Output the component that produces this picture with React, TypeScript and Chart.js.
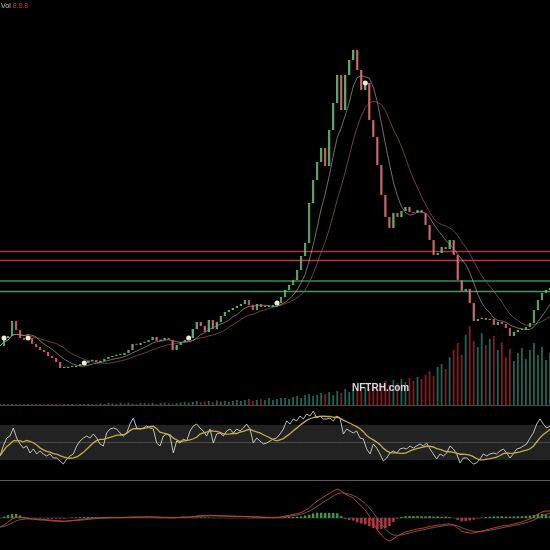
import React, { useEffect, useRef } from "react";
import { Chart, registerables } from "chart.js";

Chart.register(...registerables);

// ---- Price panel data (closing prices per session) ----
const closes = [
  16, 18, 18.5, 22.25, 20, 18, 17.5, 18, 16.5, 15.75,
  15, 14.5, 13.5, 13, 12, 10.5, 10.5, 10.75, 10.75, 11,
  11.5, 11.75, 12.25, 12.5, 12, 12.25, 12.75, 13.25, 13.5, 13.75,
  13.75, 14.25, 15, 16.5, 16.25, 16.75, 17, 17.5, 18.25, 17.25,
  17.5, 18, 17.5, 15, 16.25, 17, 17.5, 18, 20.25, 22,
  21, 19.5, 22.5, 20.25, 22, 23.5, 24.5, 25, 25.5, 26,
  26.5, 27.5, 26.25, 25, 26.5, 25.75, 25.75, 25.75, 26.25, 26.75,
  28.25, 30, 31.25, 32.5, 35, 38.5, 41.75, 51.75, 57.5, 62,
  65.5, 61, 70, 76.75, 83.75, 75, 83.75, 87.5, 90, 85,
  80, 81.75, 72.5, 68.25, 61.25, 53.75, 48.25, 45.5, 49.25, 48.25,
  49.75, 50.75, 49.5, 49.25, 50, 49.25, 46.25, 42.5, 38.75, 39.25,
  40.75, 40.25, 42.5, 38.75, 32.5, 29.75, 30.25, 26.75, 22.25, 22.75,
  23, 22.5, 22.75, 21.25, 22, 21.5, 20.5, 18.5, 19.5, 20,
  20, 20.75, 21.75, 25, 27.5, 29.25, 30, 30.5,
];

const volumes = [
  1, 1, 0.5, 1, 1, 0.5, 1, 1, 0.5, 1, 1, 0.5, 1, 1, 1, 0.5, 1, 1, 1, 0.5, 1, 1, 1, 1, 1,
  1.5, 1, 2, 1.5, 1, 2, 1.5, 2, 1.5, 1, 2, 2, 1.5, 2, 1, 2, 2.5, 2, 1.5, 2, 2.5,
  3, 2.5, 3, 4, 3, 3.5, 4, 3, 4.5, 3.5, 4, 3, 4, 5, 4,
  5, 6, 4, 5, 6, 5, 7, 5, 6, 7,
  7, 6, 8, 9, 7, 10, 11, 9, 10, 12,
  11, 13, 10, 14, 12, 16, 13, 15, 17, 14, 18, 16,
  19, 17, 21, 24, 20, 25, 22, 26, 23, 27, 24, 28, 26,
  30, 34, 29, 38, 41, 36, 48,
  55, 62, 50, 70, 79, 64, 58, 72, 60, 66, 69, 55, 63,
  48, 56, 44, 52, 57, 46, 55, 62, 50, 58, 45, 52,
];

const signalIdx = [1, 7, 21, 47, 69, 91];
const levels = [39.6, 37.4, 32.25, 29.6];

// ---- RSI panel data ----
const rsiValues = [
  34.6, 46.0, 55.1, 57.4, 66.6, 55.1, 48.3, 43.7, 46.0, 38.0,
  42.6, 36.9, 40.3, 36.9, 34.6, 36.9, 32.3, 32.3, 28.9, 25.4,
  31.1, 34.6, 36.9, 46.0, 51.7, 55.1, 57.4, 55.1, 59.7, 55.1,
  48.3, 46.0, 60.9, 65.4, 66.6, 65.4, 60.9, 57.4, 60.9, 71.1,
  78.0, 66.6, 65.4, 66.6, 68.9, 66.6, 65.4, 49.4, 46.0, 57.4,
  59.7, 57.4, 38.0, 51.7, 49.4, 54.0, 51.7, 63.1, 68.9, 71.1,
  66.6, 63.1, 57.4, 65.4, 49.4, 59.7, 60.9, 57.4, 63.1, 65.4,
  60.9, 65.4, 63.1, 66.6, 71.1, 65.4, 49.4, 55.1, 51.7, 48.3,
  49.4, 51.7, 54.0,
  55.1, 59.7, 65.4, 74.6, 71.1, 76.9, 74.6, 80.3, 76.9, 82.6,
  80.3, 86.0, 78.0, 80.3, 76.9, 76.9, 78.0, 74.6, 80.3, 78.0,
  59.7, 65.4, 63.1, 60.9, 63.1, 55.1, 54.0, 42.6, 36.9, 48.3,
  43.7, 36.9, 28.9, 32.3, 38.0, 40.3, 38.0, 42.6, 43.7, 42.6,
  46.0, 43.7, 46.0, 48.3, 46.0, 49.4, 42.6, 36.9, 31.1, 36.9,
  34.6, 38.0, 46.0, 42.6, 36.9, 26.6, 32.3, 32.3, 28.9, 25.4,
  26.6, 31.1, 36.9, 34.6, 36.9, 38.0, 36.9, 40.3, 42.6, 38.0,
  32.3, 36.9, 42.6, 43.7, 46.0, 48.3, 55.1, 60.9, 71.1, 76.9,
  71.1, 66.6, 68.9,
];
const rsiBands = [70, 50, 30];

// ---- MACD panel data (MACD line per session) ----
const macdValues = [
  -4.5, -3.5, -2, -0.5, 0.5, 0.5, 0, -0.25, -0.5, -0.75,
  -1, -1, -1.25, -1.5, -1.5, -1.75, -1.75, -1.5, -1.25, -1,
  -0.75, -0.5, -0.25, 0, 0, 0.1, 0.2, 0.25, 0.25, 0.25,
  0.25, 0.3, 0.4, 0.5, 0.5, 0.5, 0.5, 0.5, 0.5, 0.4,
  0.25, 0.25, 0.2, 0.1, 0.25, 0.4, 0.5, 0.5, 0.7, 1,
  1.2, 1.2, 1.3, 1.2, 1.1, 1, 1, 0.9, 0.8, 0.75,
  0.75, 0.75, 0.6, 0.5, 0.4, 0.3, 0.25, 0.25, 0.2, 0.25,
  0.5, 1, 1.4, 1.75, 2.2, 2.75, 3.8, 5, 6.8, 8.5,
  9.8, 11, 12.2, 13.5, 14.5, 13.5, 12, 11, 10, 8,
  6, 4, 1, -2.5, -6, -8.5, -10.5, -11.5, -10.5, -9,
  -8, -7, -6.5, -6, -5.5, -5.2, -4.8, -4.2, -4, -3.5,
  -3.5, -3, -3, -3.5, -5, -6.5, -7.2, -7.5, -7.5, -7,
  -6.5, -6, -5.5, -5, -4.5, -4, -3.8, -3.5, -3, -2.5,
  -2, -1.2, -0.5, 0.5, 2, 3, 3.5, 3.5,
];

// ---- helpers (indicators derived from the data) ----
function sma(arr: number[], n: number): number[] {
  return arr.map((_, i) => {
    const s = Math.max(0, i - n + 1);
    const w = arr.slice(s, i + 1);
    return w.reduce((a, b) => a + b, 0) / w.length;
  });
}
function ema(arr: number[], n: number): number[] {
  const k = 2 / (n + 1);
  const out: number[] = [];
  arr.forEach((v, i) => out.push(i === 0 ? v : v * k + out[i - 1] * (1 - k)));
  return out;
}

const W = 550;
const H1 = 405;
const H2 = 75;
const H3 = 70;

export default function App() {
  const c1 = useRef<HTMLCanvasElement>(null);
  const c2 = useRef<HTMLCanvasElement>(null);
  const c3 = useRef<HTMLCanvasElement>(null);

  useEffect(() => {
    const labels = closes.map((_, i) => `D${i + 1}`);
    const opens = closes.map((c, i) => (i === 0 ? c : closes[i - 1]));
    const up = closes.map((c, i) => c >= opens[i]);
    const levelColors = ["#a83448", "#b83a48", "#3f8a4f", "#4a9458"];

    const common: any = {
      responsive: false,
      animation: false,
      events: [],
      layout: { padding: 0, autoPadding: false },
      plugins: { legend: { display: false }, tooltip: { enabled: false } },
    };

    const chart1 = new Chart(c1.current!, {
      type: "bar",
      data: {
        labels,
        datasets: [
          ...levels.map((lv, k) => ({
            type: "line" as const,
            data: labels.map(() => lv),
            borderColor: levelColors[k],
            borderWidth: 1.5,
            pointRadius: 0,
            yAxisID: "y",
            order: 6,
          })),
          {
            type: "bar" as const,
            data: volumes,
            backgroundColor: up.map((u) => (u ? "rgba(30,108,92,0.95)" : "rgba(138,30,40,0.95)")),
            yAxisID: "yv",
            grouped: false,
            barPercentage: 0.45,
            categoryPercentage: 1,
            order: 5,
          },
          {
            type: "line" as const,
            data: sma(closes, 14),
            borderColor: "rgba(140,85,85,0.75)",
            borderWidth: 1,
            pointRadius: 0,
            yAxisID: "y",
            order: 4,
          },
          {
            type: "line" as const,
            data: sma(closes, 7),
            borderColor: "rgba(215,195,195,0.55)",
            borderWidth: 1,
            pointRadius: 0,
            yAxisID: "y",
            order: 3,
          },
          {
            type: "bar" as const,
            data: closes.map((c, i) => [opens[i], c]) as any,
            backgroundColor: "rgba(232,212,182,0.9)",
            borderColor: up.map((u) => (u ? "#45b866" : "#d44a5a")),
            borderWidth: 1,
            borderSkipped: false,
            grouped: false,
            barPercentage: 0.65,
            categoryPercentage: 1,
            minBarLength: 1.5,
            yAxisID: "y",
            order: 1,
          },
          {
            type: "line" as const,
            data: closes.map((c, i) => (signalIdx.includes(i) ? c : null)),
            showLine: false,
            pointRadius: 2.5,
            pointHoverRadius: 2.5,
            pointBackgroundColor: "#f3ead6",
            pointBorderWidth: 0,
            yAxisID: "y",
            order: 0,
          },
        ] as any,
      },
      options: {
        ...common,
        scales: {
          x: { display: false, offset: false },
          y: { display: false, min: 1.25, max: 102.5 },
          yv: { display: false, min: 0, max: 405 },
        },
      },
    });

    const rsiLabels = rsiValues.map((_, i) => `R${i + 1}`);
    const chart2 = new Chart(c2.current!, {
      type: "line",
      data: {
        labels: rsiLabels,
        datasets: [
          {
            data: rsiLabels.map(() => rsiBands[0]),
            borderWidth: 0,
            borderColor: "rgba(0,0,0,0)",
            pointRadius: 0,
            fill: false,
            order: 5,
          },
          {
            data: rsiLabels.map(() => rsiBands[2]),
            borderWidth: 0,
            borderColor: "rgba(0,0,0,0)",
            backgroundColor: "rgba(34,34,34,1)",
            pointRadius: 0,
            fill: "-1",
            order: 4,
          },
          {
            data: rsiLabels.map(() => rsiBands[1]),
            borderWidth: 1,
            borderColor: "rgba(80,80,80,0.9)",
            pointRadius: 0,
            fill: false,
            order: 3,
          },
          {
            data: sma(rsiValues, 8),
            borderWidth: 1.3,
            borderColor: "#c4ad48",
            pointRadius: 0,
            fill: false,
            order: 1,
          },
          {
            data: rsiValues,
            borderWidth: 1,
            borderColor: "rgba(222,220,205,0.85)",
            pointRadius: 0,
            fill: false,
            order: 2,
          },
        ] as any,
      },
      options: {
        ...common,
        scales: {
          x: { display: false, offset: false },
          y: { display: false, min: 7.1, max: 92.9 },
        },
      },
    });

    const signal = ema(macdValues, 5);
    const hist = macdValues.map((m, i) => m - signal[i]);
    const chart3 = new Chart(c3.current!, {
      type: "bar",
      data: {
        labels,
        datasets: [
          {
            type: "line" as const,
            data: labels.map(() => 0),
            borderColor: "rgba(60,60,60,0.8)",
            borderWidth: 1,
            pointRadius: 0,
            order: 5,
          },
          {
            type: "bar" as const,
            data: hist,
            backgroundColor: hist.map((h) => (h >= 0 ? "rgba(70,165,85,0.9)" : "rgba(210,60,75,0.9)")),
            barPercentage: 0.6,
            categoryPercentage: 1,
            order: 4,
          },
          {
            type: "line" as const,
            data: signal,
            borderColor: "rgba(125,95,70,0.9)",
            borderWidth: 1,
            pointRadius: 0,
            order: 2,
          },
          {
            type: "line" as const,
            data: macdValues,
            borderColor: "rgba(200,65,50,0.95)",
            borderWidth: 1,
            pointRadius: 0,
            order: 1,
          },
        ] as any,
      },
      options: {
        ...common,
        scales: {
          x: { display: false, offset: false },
          y: { display: false, min: -16, max: 19 },
        },
      },
    });

    return () => {
      chart1.destroy();
      chart2.destroy();
      chart3.destroy();
    };
  }, []);

  const abs = (top: number, h: number): React.CSSProperties => ({
    position: "absolute",
    left: 0,
    top,
    width: W,
    height: h,
  });

  return (
    <div
      style={{
        position: "fixed",
        left: 0,
        top: 0,
        width: W,
        height: 550,
        background: "#000",
        overflow: "hidden",
      }}
    >
      <canvas ref={c1} width={W} height={H1} style={abs(0, H1)} />
      <canvas ref={c2} width={W} height={H2} style={abs(H1, H2)} />
      <canvas ref={c3} width={W} height={H3} style={abs(H1 + H2, H3)} />
      <div style={{ ...abs(H1, 1), background: "#4a4a4a" }} />
      <div style={{ ...abs(H1 + H2, 1), background: "#5a5a5a" }} />
      <div
        style={{
          position: "absolute",
          left: 1,
          top: 2,
          fontFamily: "Arial, 'Liberation Sans', sans-serif",
          fontSize: 7,
          lineHeight: "8px",
          whiteSpace: "nowrap",
        }}
      >
        <span style={{ color: "#c8c8c8" }}>Vol</span>
        <span style={{ color: "#c0392b" }}> 8.8.8</span>
      </div>
      <div
        style={{
          position: "absolute",
          left: 352,
          top: 382,
          fontFamily: "Arial, 'Liberation Sans', sans-serif",
          fontWeight: "bold",
          fontSize: 10,
          color: "#d8d8d8",
          whiteSpace: "nowrap",
        }}
      >
        NFTRH.com
      </div>
    </div>
  );
}
